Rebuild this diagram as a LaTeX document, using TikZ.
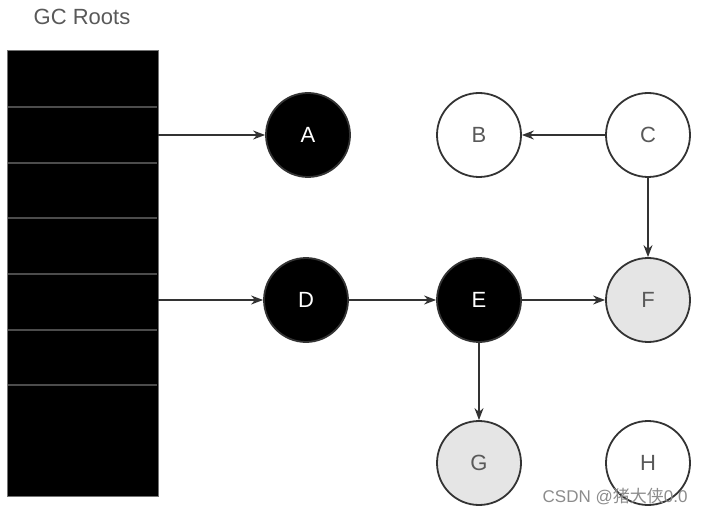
\documentclass[tikz,border=0pt]{standalone}
\usepackage{fontspec}
\setmainfont{Liberation Sans}
\newfontfamily\cjk{Noto Sans CJK SC}
\usetikzlibrary{arrows.meta}

\begin{document}
\begin{tikzpicture}[x=1pt,y=-1pt,
	obj/.style={circle, draw=black!80, line width=1.8pt, minimum size=84pt, inner sep=0pt, text=black!65, font=\fontsize{22}{22}\selectfont},
	live/.style={obj, fill=black, text=white},
	grey/.style={obj, fill=black!10},
	ref/.style={-{Stealth[length=12pt,width=9pt]}, line width=1.6pt, draw=black!80}]
	\useasboundingbox (0,0) rectangle (705,516);
	% the root stack
	\filldraw[draw=black!55, fill=black, line width=0.8pt] (7,50) rectangle (158,496);
	\foreach \y in {107,163,218,274,330,385}
		\draw[black!70, line width=1.4pt] (8,\y) -- (157,\y);
	\node[text=black!65, font=\fontsize{22}{22}\selectfont] (title) at (82,17) {GC Roots};
	\coordinate (r1) at (158,135);
	\coordinate (r2) at (158,300);
	% objects
	\node[live] (A) at (308,135) {A};
	\node[obj]  (B) at (479,135) {B};
	\node[obj]  (C) at (648,135) {C};
	\node[live] (D) at (306,300) {D};
	\node[live] (E) at (479,300) {E};
	\node[grey] (F) at (648,300) {F};
	\node[grey] (G) at (479,463) {G};
	\node[obj]  (H) at (648,463) {H};
	% references
	\draw[ref] (r1) -- (A);
	\draw[ref] (r2) -- (D);
	\draw[ref] (D) -- (E);
	\draw[ref] (E) -- (F);
	\draw[ref] (C) -- (B);
	\draw[ref] (C) -- (F);
	\draw[ref] (E) -- (G);
	\node[text=black!45, font=\fontsize{17}{17}\selectfont, anchor=east] (mark) at (691,497) {CSDN @{\cjk 猪大侠}0.0};
\end{tikzpicture}
\end{document}
